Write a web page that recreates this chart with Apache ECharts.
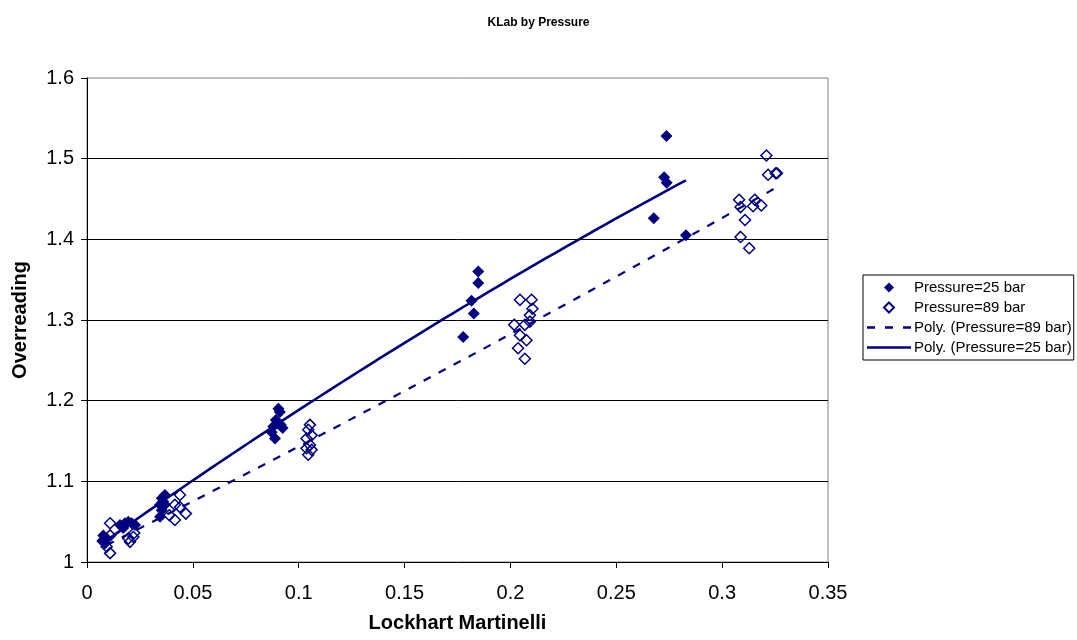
<!DOCTYPE html>
<html>
<head>
<meta charset="utf-8">
<script src="https://cdn.jsdelivr.net/npm/echarts@6/dist/echarts.min.js"></script>
<style>
html,body{margin:0;padding:0;background:#fff;}
#chart{width:1077px;height:640px;}
</style>
</head>
<body>
<div id="chart"></div>
<script>
// ---- Data ----
const chartTitle = 'KLab by Pressure';
const xAxisTitle = 'Lockhart Martinelli';
const yAxisTitle = 'Overreading';
const seriesNames = ['Pressure=25 bar', 'Pressure=89 bar', 'Poly. (Pressure=89 bar)', 'Poly. (Pressure=25 bar)'];

const p25X = [0.0077,0.0093,0.0072,0.0085,
  0.0156,0.0171,0.0179,0.0195,0.0211,0.0227,
  0.0368,0.0353,0.0360,0.0345,0.0368,0.0353,0.0345,
  0.0904,0.0911,0.0892,0.0915,0.0924,0.0880,0.0872,0.0888,
  0.1848,0.1848,0.1816,0.1827,0.1777,
  0.2737,0.2726,0.2738,0.2677,0.2829];
const p25Y = [1.033,1.029,1.026,1.023,
  1.046,1.042,1.048,1.050,1.048,1.046,
  1.083,1.079,1.075,1.071,1.071,1.064,1.056,
  1.190,1.186,1.176,1.170,1.166,1.168,1.161,1.153,
  1.360,1.346,1.324,1.308,1.279,
  1.528,1.477,1.470,1.426,1.405];

const p89X = [0.0109,0.0109,0.0093,0.0109,0.0195,0.0203,0.0219,0.0223,
  0.0439,0.0415,0.0439,0.0467,0.0415,0.0389,
  0.1053,0.1045,0.1061,0.1037,0.1053,0.1037,0.1061,0.1045,
  0.2045,0.2100,0.2104,0.2092,0.2018,0.2068,0.2092,0.2045,0.2076,0.2036,0.2068,
  0.3209,0.3217,0.3253,0.3259,0.3080,0.3087,0.3154,0.3146,0.3185,0.3108,0.3087,0.3128];
const p89Y = [1.048,1.033,1.019,1.011,1.029,1.025,1.031,1.036,
  1.083,1.071,1.068,1.060,1.052,1.058,
  1.170,1.164,1.157,1.153,1.145,1.141,1.139,1.133,
  1.325,1.325,1.314,1.306,1.294,1.294,1.298,1.281,1.275,1.265,1.252,
  1.504,1.480,1.482,1.482,1.449,1.440,1.449,1.441,1.442,1.424,1.403,1.389];

const xTicks = {min: 0, max: 0.35, interval: 0.05};
const yTicks = {min: 1, max: 1.6, interval: 0.1};

// ---- 2nd-order polynomial least-squares trendline (as in the original "Poly." trendlines) ----
function polyfit2(xs, ys) {
  let s = [0,0,0,0,0], t = [0,0,0];
  for (let i = 0; i < xs.length; i++) {
    let p = 1;
    for (let k = 0; k < 5; k++) { s[k] += p; if (k < 3) t[k] += p * ys[i]; p *= xs[i]; }
  }
  const A = [[s[0],s[1],s[2],t[0]],[s[1],s[2],s[3],t[1]],[s[2],s[3],s[4],t[2]]];
  for (let c = 0; c < 3; c++) {
    let m = c;
    for (let r = c+1; r < 3; r++) if (Math.abs(A[r][c]) > Math.abs(A[m][c])) m = r;
    [A[c], A[m]] = [A[m], A[c]];
    for (let r = 0; r < 3; r++) if (r !== c) {
      const f = A[r][c] / A[c][c];
      for (let k = c; k < 4; k++) A[r][k] -= f * A[c][k];
    }
  }
  return [A[0][3]/A[0][0], A[1][3]/A[1][1], A[2][3]/A[2][2]];
}
function trend(xs, ys) {
  const c = polyfit2(xs, ys);
  const lo = Math.min(...xs), hi = Math.max(...xs);
  const out = [];
  const n = 80;
  for (let i = 0; i <= n; i++) {
    const x = lo + (hi - lo) * i / n;
    out.push([x, c[0] + c[1]*x + c[2]*x*x]);
  }
  return out;
}

const pairs = (xs, ys) => xs.map((x, i) => [x, ys[i]]);
const NAVY = '#000080';
const FONT = 'Liberation Sans, Arial, Helvetica, sans-serif';

// legend icons (kept at their aspect ratio inside the legend item box)
const ICON_DIAMOND = 'path://M5,0L10,5L5,10L0,5Z';
const ICON_SOLID = 'path://M0,0H44V2.6H0Z';
const ICON_DASH = 'path://M0,0H8V2.6H0Z M18,0H26V2.6H18Z M36,0H44V2.6H36Z';

const chart = echarts.init(document.getElementById('chart'), null, {renderer: 'canvas'});
chart.setOption({
  animation: false,
  backgroundColor: '#fff',
  textStyle: {fontFamily: FONT, color: '#000'},
  title: {
    text: chartTitle, left: 'center', top: 12,
    textStyle: {fontFamily: FONT, fontSize: 12, fontWeight: 'bold', color: '#000'}
  },
  grid: {left: 87, right: 249, top: 78, bottom: 78, show: true, borderColor: '#808080', borderWidth: 1, backgroundColor: '#fff'},
  legend: {
    orient: 'vertical', left: 863, top: 275,
    data: [
      {name: seriesNames[0], icon: ICON_DIAMOND},
      {name: seriesNames[1], icon: ICON_DIAMOND},
      {name: seriesNames[2], icon: ICON_DASH},
      {name: seriesNames[3], icon: ICON_SOLID}
    ],
    itemWidth: 44, itemHeight: 10, itemGap: 5,
    padding: [5, 2, 5, 4],
    borderColor: '#000', borderWidth: 1, backgroundColor: '#fff',
    textStyle: {fontFamily: FONT, fontSize: 15, color: '#000', padding: [0, 0, 0, -2]}
  },
  xAxis: {
    type: 'value', min: xTicks.min, max: xTicks.max, interval: xTicks.interval,
    name: xAxisTitle, nameLocation: 'middle', nameGap: 51,
    nameTextStyle: {fontFamily: FONT, fontSize: 20, fontWeight: 'bold', color: '#000'},
    axisLine: {show: true, onZero: false, lineStyle: {color: '#000', width: 1}},
    axisTick: {show: true, inside: false, length: 6, lineStyle: {color: '#000'}},
    axisLabel: {fontFamily: FONT, fontSize: 20, color: '#000', margin: 21},
    splitLine: {show: false}
  },
  yAxis: {
    type: 'value', min: yTicks.min, max: yTicks.max, interval: yTicks.interval,
    name: yAxisTitle, nameLocation: 'middle', nameGap: 57, nameRotate: 90,
    nameTextStyle: {fontFamily: FONT, fontSize: 20, fontWeight: 'bold', color: '#000'},
    axisLine: {show: true, onZero: false, lineStyle: {color: '#000', width: 1}},
    axisTick: {show: true, inside: false, length: 6, lineStyle: {color: '#000'}},
    axisLabel: {fontFamily: FONT, fontSize: 20, color: '#000', margin: 13},
    splitLine: {show: true, showMinLine: false, showMaxLine: false, lineStyle: {color: '#000', width: 1}}
  },
  series: [
    {
      name: seriesNames[0], type: 'scatter', symbol: 'diamond', symbolSize: 12,
      itemStyle: {color: NAVY, opacity: 1},
      data: pairs(p25X, p25Y), z: 3
    },
    {
      name: seriesNames[1], type: 'scatter', symbol: 'diamond', symbolSize: 11,
      itemStyle: {color: 'rgba(255,255,255,0)', borderColor: NAVY, borderWidth: 1.5, opacity: 1},
      data: pairs(p89X, p89Y), z: 3
    },
    {
      name: seriesNames[2], type: 'line', symbol: 'none', smooth: false,
      lineStyle: {color: NAVY, width: 2.2, type: [8, 9]},
      itemStyle: {color: NAVY},
      data: trend(p89X, p89Y), z: 4
    },
    {
      name: seriesNames[3], type: 'line', symbol: 'none', smooth: false,
      lineStyle: {color: NAVY, width: 2.6, type: 'solid'},
      itemStyle: {color: NAVY},
      data: trend(p25X, p25Y), z: 4
    }
  ]
});
</script>
</body>
</html>
